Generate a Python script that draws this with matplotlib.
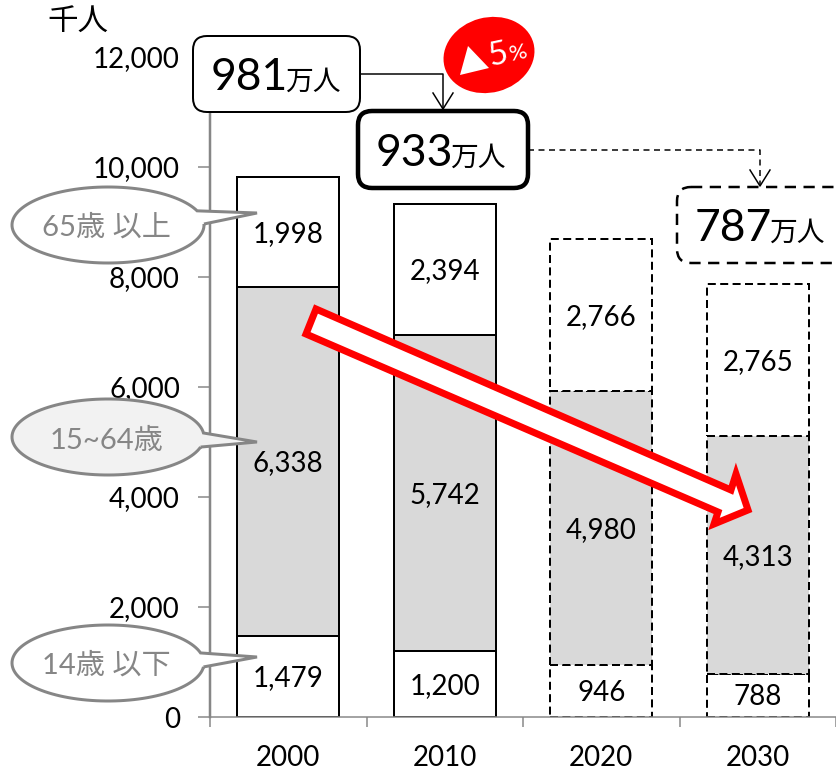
#!/usr/bin/env python

import numpy as np
import matplotlib
matplotlib.use('Agg')
import matplotlib.pyplot as plt
from matplotlib.patches import FancyBboxPatch, Ellipse, PathPatch, Polygon
from matplotlib.path import Path

plt.rcParams['font.family'] = ['Lato', 'Noto Sans CJK JP', 'DejaVu Sans']

years = ['2000', '2010', '2020', '2030']
under_15 = [1479, 1200, 946, 788]
age_15_64 = [6338, 5742, 4980, 4313]
over_65 = [1998, 2394, 2766, 2765]
projected = [False, False, True, True]
y_ticks = [0, 2000, 4000, 6000, 8000, 10000, 12000]

W, H = 836, 771
PX = 0.72  # one pixel in points at dpi 100
GREY = '#868686'
TXT = 20

fig = plt.figure(figsize=(W / 100, H / 100), dpi=100)
ax = fig.add_axes([210 / W, 1 - 717 / H, (836 - 210) / W, 660 / H])

x = np.arange(len(years))
for i in x:
    ls = (0, (4, 2.2)) if projected[i] else 'solid'
    lw = 2 * PX
    bottoms = [0, under_15[i], under_15[i] + age_15_64[i]]
    heights = [under_15[i], age_15_64[i], over_65[i]]
    fills = ['white', '#d9d9d9', 'white']
    for b, h, c in zip(bottoms, heights, fills):
        ax.bar(i, h, bottom=b, width=0.652, color=c, edgecolor='black',
               linewidth=lw, linestyle=ls, zorder=2)
        ax.annotate(f'{h:,}', (i, b + h / 2), xytext=(0, -1.5), textcoords='offset points',
                    ha='center', va='center', fontsize=TXT, zorder=3)

ax.set_xlim(-0.5, 3.5)
ax.set_ylim(0, 12000)
ax.set_yticks(y_ticks)
ax.set_yticklabels([f'{v:,}' for v in y_ticks], fontsize=TXT)
ax.set_xticks(x)
ax.set_xticklabels(years, fontsize=TXT)
ax.set_xticks(np.arange(-0.5, 4, 1), minor=True)
ax.tick_params(axis='y', length=12 * PX, width=1.5 * PX, color=GREY, pad=13)
ax.tick_params(axis='x', which='major', length=0, pad=20)
ax.tick_params(axis='x', which='minor', length=10 * PX, width=1.5 * PX, color=GREY)
for side in ['top', 'right']:
    ax.spines[side].set_visible(False)
ax.spines['left'].set_color(GREY)
ax.spines['left'].set_linewidth(2.5 * PX)
ax.spines['bottom'].set_color(GREY)
ax.spines['bottom'].set_linewidth(1.5 * PX)

# overlay in pixel coordinates for the callouts and arrows
ov = fig.add_axes([0, 0, 1, 1], facecolor='none')
ov.set_xlim(0, W)
ov.set_ylim(H, 0)
ov.axis('off')

ov.text(78, 22, '千人', ha='center', va='center', fontsize=22)


def total_box(x0, y0, x1, y1, big, lw, ls='solid'):
    ov.add_patch(FancyBboxPatch((x0 + 14, y0 + 14), x1 - x0 - 28, y1 - y0 - 28,
                                boxstyle='round,pad=14,rounding_size=14',
                                fc='white', ec='black', lw=lw * PX, ls=ls, zorder=5,
                                mutation_aspect=1))
    t = ov.text(x0 + 18, (y0 + y1) / 2 + 3.5, big, ha='left', va='center', fontsize=32, zorder=6)
    fig.canvas.draw()
    bb = t.get_window_extent().transformed(ov.transData.inverted())
    ov.text(bb.x1 - 3, (y0 + y1) / 2 + 8, '万人', ha='left', va='center', fontsize=20, zorder=6)


def elbow(x0, y0, x1, y1, ls='solid'):
    ov.plot([x0, x1, x1], [y0, y0, y1], color='black', lw=1.5 * PX, ls=ls, zorder=4)
    ov.plot([x1 - 10, x1, x1 + 10], [y1 - 16, y1, y1 - 16], color='black', lw=1.5 * PX, zorder=7)


total_box(193, 36, 360, 112, '981', 2)
total_box(358, 111, 528, 188, '933', 4.5)
total_box(677, 187, 860, 263, '787', 2.5, ls=(0, (4.5, 3)))
elbow(360, 74, 443, 109)
elbow(528, 150, 760, 186, ls=(0, (4, 3)))

# red badge
ov.add_patch(Ellipse((489, 55), 92, 75, angle=-15, fc='#ff0000', ec='none', zorder=6))
ov.add_patch(Polygon([(468, 46), (489, 68), (460, 75)], fc='white', ec='none', zorder=7))
ov.text(498, 55, '5', color='white', fontsize=24, rotation=12, ha='center', va='center', zorder=7)
ov.text(518, 53, '%', color='white', fontsize=16, rotation=12, ha='center', va='center', zorder=7)


def callout(cy, tail_top, tip, tail_bot, fill, label, text_y):
    cx, rx, ry = 108, 96, 38
    a0 = np.arctan2((tail_bot[1] - cy) / ry, (tail_bot[0] - cx) / rx)
    a1 = np.arctan2((tail_top[1] - cy) / ry, (tail_top[0] - cx) / rx) + 2 * np.pi
    t = np.linspace(a0, a1, 120)
    pts = np.column_stack([cx + rx * np.cos(t), cy + ry * np.sin(t)])
    pts = np.vstack([pts, tip, pts[0]])
    ov.add_patch(PathPatch(Path(pts), fc=fill, ec=GREY, lw=3 * PX, zorder=5))
    ov.text(cx - 2, text_y, label, color=GREY, ha='center', va='center', fontsize=21, zorder=6)


callout(225, (196, 211), (257, 213), (204, 224), 'white', '65歳 以上', 227)
callout(437, (203, 433), (257, 442), (200, 447), '#f2f2f2', '15~64歳', 441)
callout(663, (200, 653), (257, 657), (205, 667), 'white', '14歳 以下', 665)

# decline arrow
ov.add_patch(Polygon([(316, 309), (731, 490), (736, 474), (748, 510), (714, 524),
                      (718, 512), (306, 334)], closed=True, fc='white', ec='#ff0000',
                     lw=7 * PX, joinstyle='miter', zorder=8))

fig.savefig('out.png', dpi=100)
